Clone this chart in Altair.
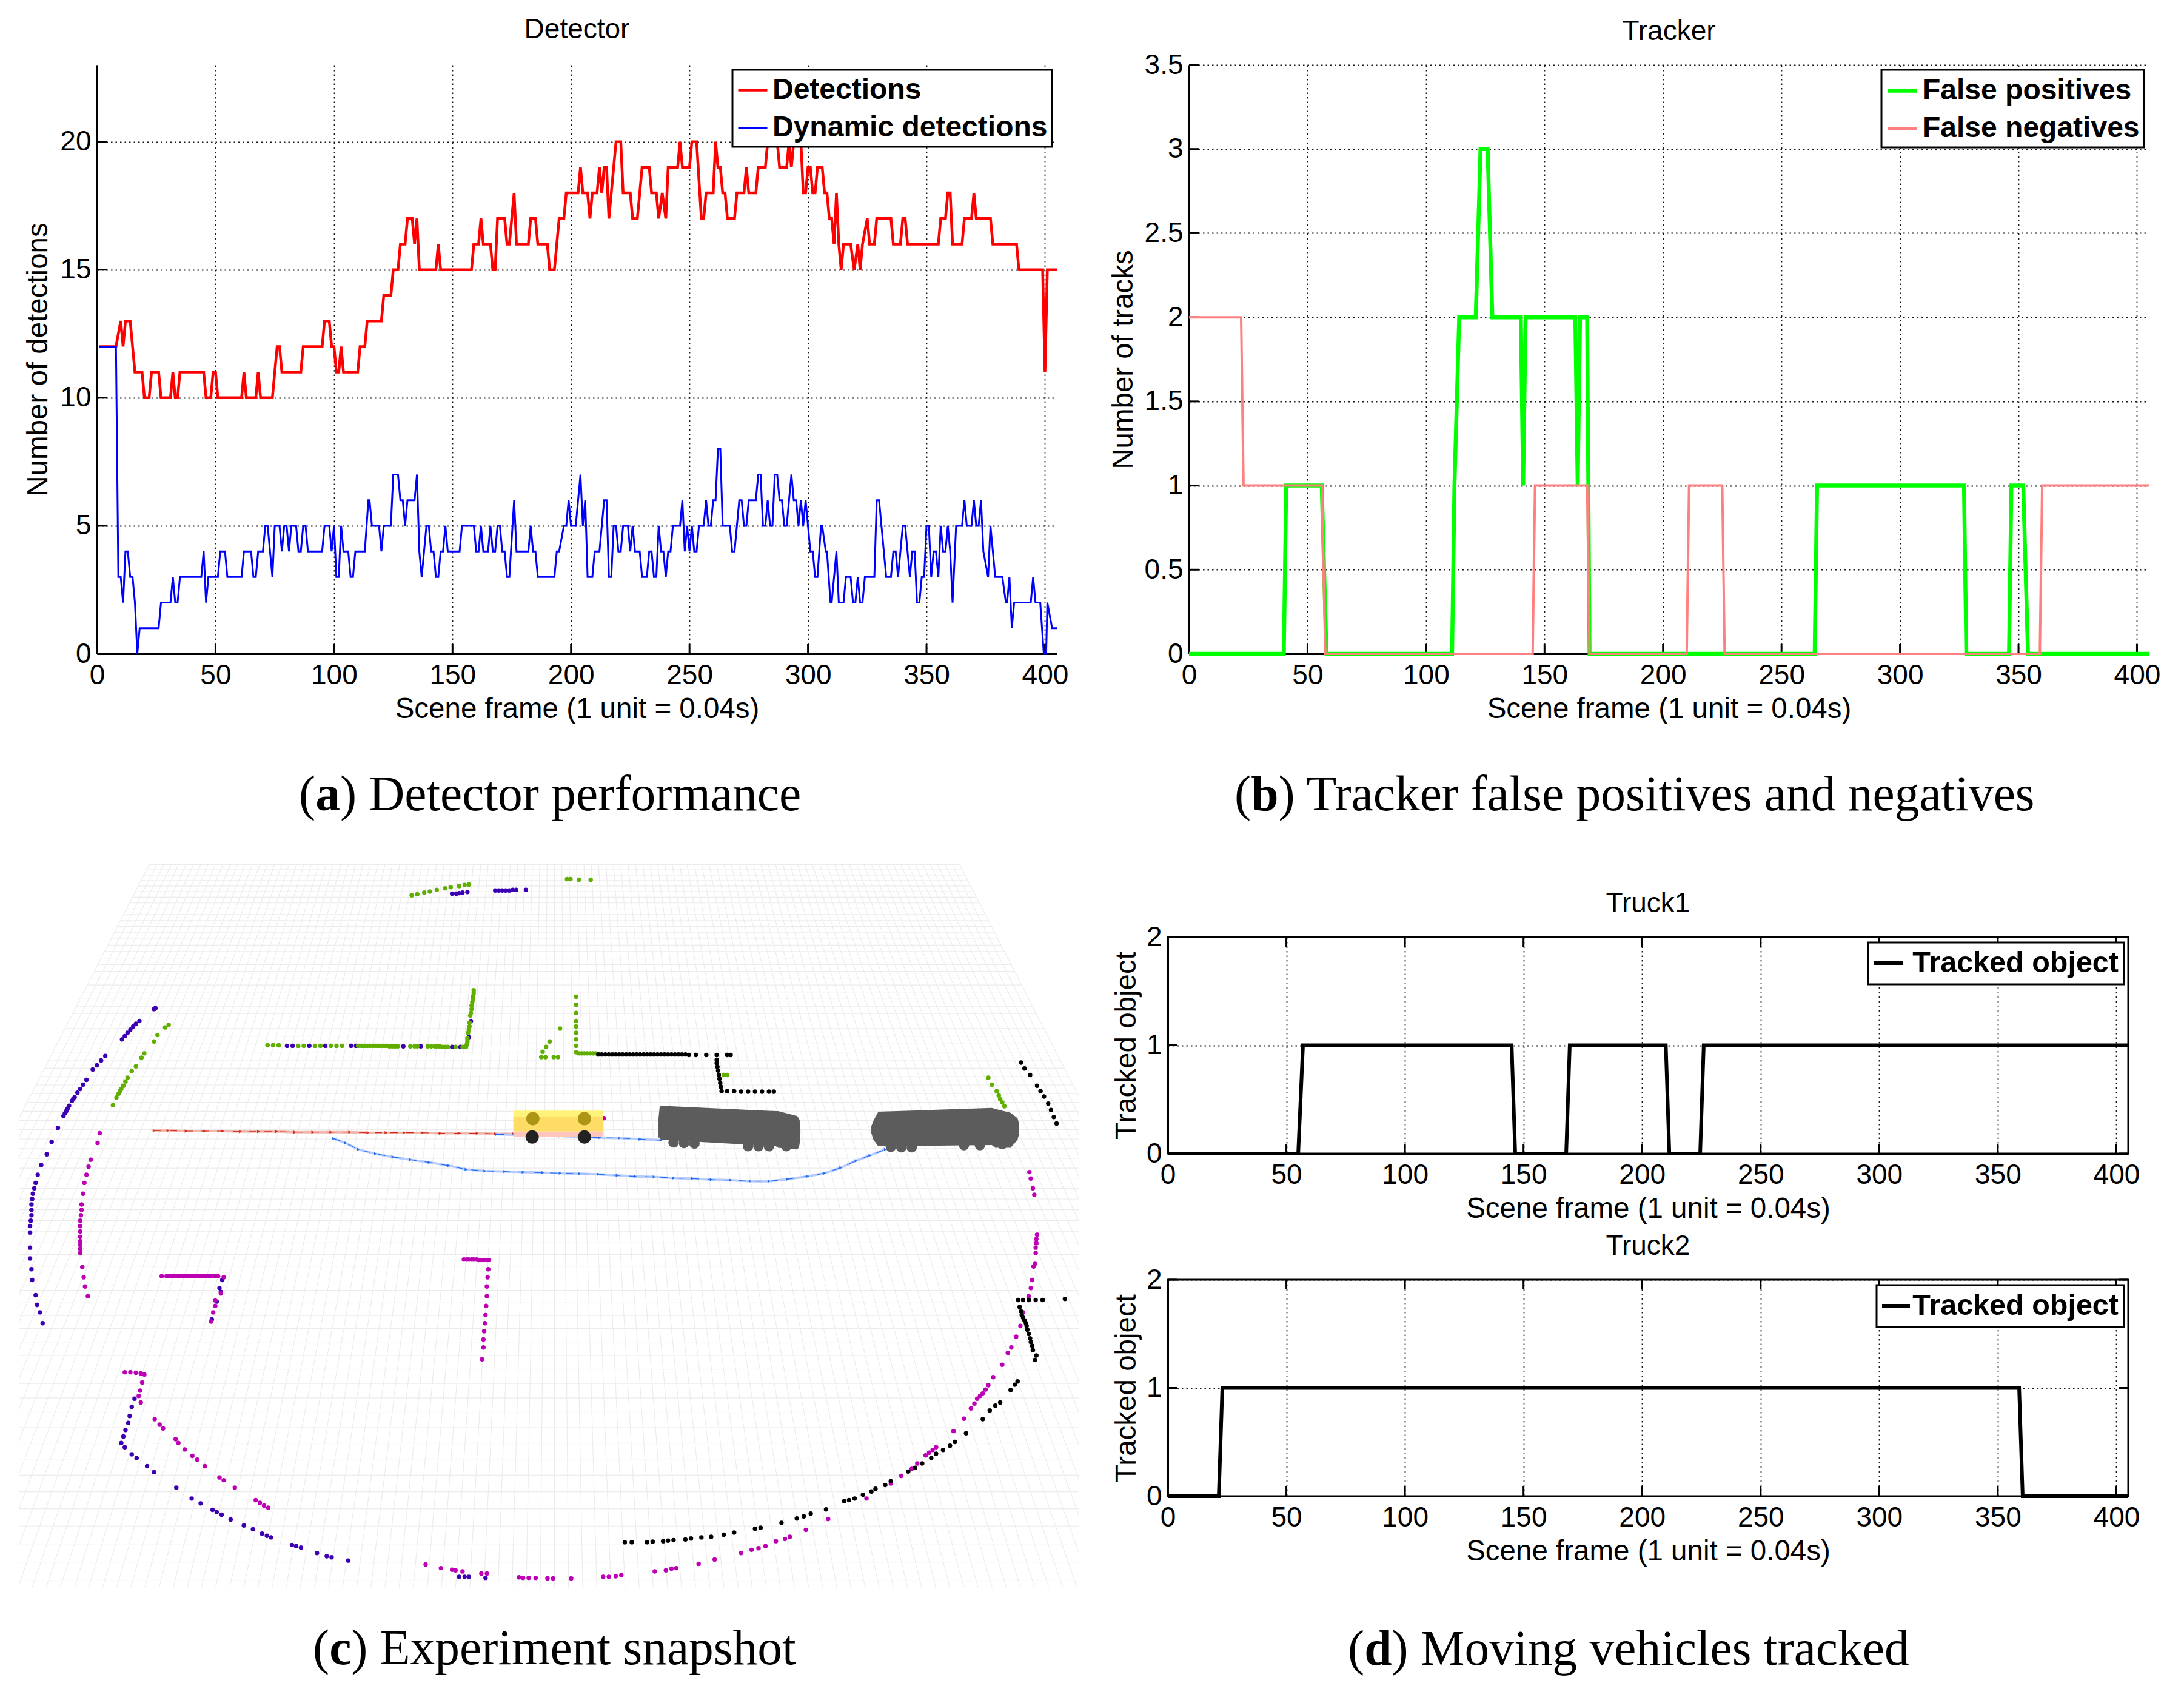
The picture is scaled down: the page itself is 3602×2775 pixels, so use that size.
import altair as alt
import pandas as pd

SANS = "Liberation Sans"
SERIF = "Liberation Serif"
FRAME_TICKS = [0, 50, 100, 150, 200, 250, 300, 350, 400]
X_TITLE = "Scene frame (1 unit = 0.04s)"

# Panel (a): (frame, count) at each change of the step curves
detections = [
    (1, 12), (8, 12), (10, 13), (11, 12), (12, 13), (14, 13), (15, 12), (16, 11), (19, 11), (20, 10),
    (22, 10), (23, 11), (26, 11), (27, 10), (31, 10), (32, 11), (33, 10), (34, 10), (35, 11), (45, 11),
    (46, 10), (48, 10), (49, 11), (50, 11), (51, 10), (61, 10), (62, 11), (63, 10), (67, 10), (68, 11),
    (69, 10), (74, 10), (75, 11), (76, 12), (77, 12), (78, 11), (86, 11), (87, 12), (95, 12), (96, 13),
    (98, 13), (99, 12), (100, 12), (101, 11), (102, 11), (103, 12), (104, 11), (110, 11), (111, 12),
    (113, 12), (114, 13), (120, 13), (121, 14), (124, 14), (125, 15), (127, 15), (128, 16), (130, 16),
    (131, 17), (133, 17), (134, 16), (135, 17), (136, 15), (143, 15), (144, 16), (145, 15), (158, 15),
    (159, 16), (161, 16), (162, 17), (163, 16), (166, 16), (167, 15), (168, 15), (169, 17), (172, 17),
    (173, 16), (174, 16), (175, 17), (176, 18), (177, 16), (182, 16), (183, 17), (185, 17), (186, 16),
    (190, 16), (191, 15), (193, 15), (194, 16), (195, 17), (197, 17), (198, 18), (203, 18), (204, 19),
    (205, 18), (207, 18), (208, 17), (209, 18), (211, 18), (212, 19), (213, 18), (214, 19), (215, 19),
    (216, 17), (217, 18), (218, 19), (219, 20), (221, 20), (222, 18), (225, 18), (226, 17), (228, 17),
    (229, 18), (230, 19), (233, 19), (234, 18), (236, 18), (237, 17), (238.5, 18), (240, 17), (241, 19),
    (245, 19), (246, 20), (247, 19), (250, 19), (251, 20), (253, 20), (255, 17), (256, 17), (257, 18),
    (260, 18), (261, 20), (262, 19), (263, 19), (264, 18), (265, 18), (266, 17), (269, 17), (270, 18),
    (273, 18), (274, 19), (275, 18), (278, 18), (279, 19), (282, 19), (283, 20), (287, 20), (288, 19),
    (291, 19), (292, 20), (293, 19), (294, 20), (297, 20), (298, 18), (299, 18), (300, 19), (301, 19),
    (302, 18), (303, 18), (304, 19), (306, 19), (307, 18), (308, 18), (309, 17), (310, 17), (311, 16),
    (312, 18), (313, 16), (314, 15), (315, 16), (318, 16), (319.5, 15), (321, 16), (322, 15), (323, 16),
    (325, 17), (326, 16), (328, 16), (329, 17), (335, 17), (336, 16), (339, 16), (340, 17), (341, 17),
    (342, 16), (355, 16), (356, 17), (358, 17), (359, 18), (360, 18), (361, 16), (365, 16), (366, 17),
    (369, 17), (370, 18), (371, 17), (377, 17), (378, 16), (388, 16), (389, 15), (399, 15), (400, 11),
    (401, 15), (405, 15),
]
dynamic_detections = [
    (1, 12), (8, 12), (9, 3), (10, 3), (11, 2), (12, 4), (13, 4), (14, 3), (15, 3), (16, 2), (17, 0),
    (18, 1), (26, 1), (27, 2), (31, 2), (32, 3), (33, 2), (34, 2), (35, 3), (44, 3), (45, 4), (46, 2),
    (47, 3), (51, 3), (52, 4), (54, 4), (55, 3), (61, 3), (62, 4), (65, 4), (66, 3), (67, 3), (68, 4),
    (70, 4), (71, 5), (72, 5), (73, 4), (74, 3), (75, 5), (77, 5), (78, 4), (79, 5), (80, 5), (81, 4),
    (82, 5), (84, 5), (85, 4), (86, 4), (87, 5), (88, 5), (89, 4), (95, 4), (96, 5), (98, 5), (99, 4),
    (100, 5), (101, 3), (102, 3), (103, 5), (104, 4), (106, 4), (107, 3), (108, 3), (109, 4), (113, 4),
    (114.5, 6), (115, 6), (116, 5), (119, 5), (120, 4), (121, 5), (124, 5), (125, 7), (127, 7), (128, 6),
    (129, 6), (130, 5), (131, 6), (134, 6), (135, 7), (136, 4), (137, 3), (138, 4), (139, 5), (140, 5),
    (141, 4), (142, 4), (143, 3), (144, 3), (145, 4), (146, 4), (147, 5), (148, 4), (153, 4), (154, 5),
    (159, 5), (160, 4), (161, 4), (162, 5), (163, 4), (165, 4), (166, 5), (167, 4), (168, 4), (169, 5),
    (170, 5), (171, 4), (172, 4), (173, 3), (174, 3), (176, 6), (177, 4), (182, 4), (183, 5), (184, 4),
    (185, 4), (186, 3), (193, 3), (194, 4), (195, 4), (197, 5), (198, 5), (199, 6), (200, 5), (202, 5),
    (204, 7), (205, 5), (206, 6), (207, 3), (209, 3), (210, 4), (212, 4), (213, 5), (214, 6), (215, 6),
    (216, 3), (217, 3), (218, 5), (219, 5), (220, 4), (221, 4), (222, 5), (224, 5), (225, 4), (226, 5),
    (227, 4), (229, 4), (230, 3), (232, 3), (233, 4), (234, 4), (235, 3), (236, 3), (237, 5), (238, 4),
    (239, 4), (240, 3), (241, 4), (242, 4), (243, 5), (246, 5), (247, 6), (248, 4), (249, 5), (250, 4),
    (251, 5), (252, 4), (253, 4), (254, 5), (256, 5), (257, 6), (258, 5), (259, 5), (260, 6), (261, 6),
    (262, 8), (263, 8), (264, 5), (267, 5), (268, 4), (269, 4), (271, 6), (272, 6), (273, 5), (274, 5),
    (275, 6), (278, 6), (279, 7), (280, 7), (281, 5), (282, 5), (283, 6), (284, 5), (285, 5), (286, 7),
    (287, 7), (288, 6), (289, 6), (290, 5), (291, 5), (293, 7), (294, 6), (295, 6), (296, 5), (297, 6),
    (298, 5), (299, 6), (300, 5), (301, 4), (302, 4), (303, 3), (304, 3), (305.5, 5), (306, 5), (307.5, 4),
    (308, 4), (309.5, 2), (310, 2), (312, 4), (313, 2), (315, 2), (316, 3), (318, 3), (319, 2), (320, 2),
    (321, 3), (322, 2), (323, 2), (324, 3), (328, 3), (329, 6), (330, 6), (331, 5), (333, 3), (335, 3),
    (336, 4), (337, 4), (338, 3), (340, 5), (341, 5), (343, 3), (344, 4), (345, 4), (346, 2), (347, 2),
    (348, 3), (349, 3), (350, 5), (351, 5), (352, 3), (353, 4), (354, 4), (355, 3), (356, 5), (357, 4),
    (358, 4), (359, 5), (360, 4), (361, 2), (362.5, 5), (365, 5), (366, 6), (367, 5), (369, 5), (370, 6),
    (371, 5), (372, 5), (373, 6), (374, 4), (376, 3), (377, 5), (379, 3), (382, 3), (383.5, 2), (384, 2),
    (385, 3), (386, 1), (387, 2), (394, 2), (395, 3), (396, 2), (398, 2), (399.5, 0), (400.5, 0), (401, 2),
    (403, 1), (405, 1),
]

# Panel (b)
false_positives = [
    (0, 0), (40, 0), (41, 1), (56, 1), (58, 0), (111, 0), (112, 1), (114, 2), (121, 2), (123, 3), (126, 3),
    (128, 2), (140, 2), (141, 1), (142, 2), (163, 2), (164, 1), (165, 2), (168, 2), (169, 0), (264, 0),
    (265, 1), (327, 1), (328, 0), (346, 0), (347, 1), (352, 1), (354, 0), (405, 0),
]
false_negatives = [
    (0, 2), (22, 2), (23, 1), (56, 1), (57.5, 0), (145, 0), (146, 1), (168, 1), (169, 0), (210, 0), (211, 1),
    (225, 1), (226, 0), (359, 0), (360, 1), (405, 1),
]

# Panel (d)
truck1_track = [
    (0, 0), (55, 0), (57, 1), (145, 1), (146.5, 0), (168, 0), (169.5, 1), (210, 1), (211.5, 0), (224.5, 0),
    (226, 1), (405, 1),
]
truck2_track = [(0, 0), (21.5, 0), (23, 1), (359, 1), (360.5, 0), (405, 0)]

# Panel (c): scene points, in the snapshot's own picture units
purple_points = [
    (222, 318), (224, 316), (176, 374), (180, 368), (184, 362), (188, 356), (192, 350), (196, 345), (201, 340),
    (152, 405), (146, 413), (140, 422), (134, 430), (125, 449), (116, 466), (108, 481), (104, 488), (100, 497),
    (96, 507), (92, 516), (84, 538), (75, 564), (68, 587), (60, 607), (55, 625), (52, 640), (48, 660), (46, 680),
    (46, 700), (44, 720), (44, 732), (44, 760), (44, 780), (46, 800), (47, 820), (52, 848), (54, 866), (58, 880),
    (62, 900), (650, 104), (660, 103), (672, 101), (712, 98), (722, 98), (732, 98), (742, 97), (756, 97),
    (194, 1040), (190, 1055), (187, 1072), (185, 1085), (181, 1098), (178, 1110), (175, 1122), (180, 1130),
    (190, 1143), (197, 1150), (212, 1165), (222, 1176), (254, 1205), (276, 1225), (289, 1234), (306, 1246),
    (312, 1250), (319, 1255), (332, 1264), (351, 1275), (364, 1282), (377, 1290), (384, 1294), (390, 1297),
    (420, 1311), (426, 1313), (433, 1316), (456, 1326), (470, 1332), (477, 1334), (501, 1340), (660, 1370),
    (668, 1370), (674, 1370), (698, 1372), (413, 386), (421, 386), (445, 386), (468, 386), (505, 386), (512, 386),
    (580, 387), (605, 387), (650, 388), (662, 388), (674, 370), (677, 340), (320, 820), (316, 835),
    (106, 484), (112, 473), (120, 458), (98, 502), (94, 511), (50, 650), (47, 670), (46, 690), (45, 710),
    (717, 98), (727, 98), (737, 97), (656, 104), (665, 102), (305, 893), (312, 860), (318, 842),
]
green_points = [
    (243, 347), (238, 352), (227, 366), (222, 378), (208, 400), (204, 408), (196, 424), (190, 433), (184, 445),
    (178, 460), (173, 470), (168, 482), (163, 496), (592, 107), (600, 105), (610, 102), (618, 100), (628, 97),
    (640, 94), (648, 92), (660, 90), (668, 88), (674, 87), (815, 77), (820, 77), (832, 78), (849, 78),
    (385, 385), (393, 385), (401, 385), (429, 386), (437, 386), (453, 386), (461, 386), (476, 386), (484, 386),
    (492, 386), (520, 386), (528, 386), (536, 386), (544, 386), (552, 386), (560, 387), (568, 387), (590, 387),
    (596, 387), (615, 387), (625, 387), (632, 387), (640, 388), (670, 388), (672, 378), (673, 362), (675, 350),
    (676, 330), (678, 318), (679, 305), (680, 295), (681, 283), (828, 295), (828, 310), (828, 325), (828, 340),
    (828, 350), (828, 362), (828, 374), (828, 386), (828, 398), (836, 400), (844, 400), (852, 400), (860, 401),
    (805, 354), (790, 378), (785, 388), (780, 397), (778, 407), (784, 407), (796, 407), (802, 407), (1045, 440),
    (1420, 445), (1425, 458), (1432, 470), (1437, 485), (1443, 498),
    (515, 386), (524, 386), (532, 386), (540, 386), (548, 386), (556, 386), (564, 387), (572, 387), (600, 387),
    (620, 387), (628, 387), (636, 388), (644, 388), (655, 388), (665, 388), (671, 384), (672, 372), (674, 356),
    (675, 343), (677, 325), (678, 311), (680, 300), (681, 289), (171, 475), (175, 466), (181, 452), (832, 400),
    (840, 400), (848, 400), (856, 400), (1040, 440), (1435, 478), (1440, 491),
]
magenta_points = [
    (144, 548), (141, 566), (131, 597), (128, 610), (125, 625), (122, 640), (120, 660), (118, 680), (117, 700),
    (116, 720), (116, 740), (116, 755), (116, 770), (119, 796), (121, 815), (123, 832), (127, 850),
    (1479, 620), (1481, 632), (1484, 650), (1486, 662), (1490, 736), (1489, 752), (1488, 770), (1487, 790),
    (1485, 795), (1483, 820), (1481, 835), (1478, 850), (1470, 880), (1466, 905), (1460, 925), (1453, 945),
    (1448, 955), (1440, 977), (1427, 1000), (1420, 1015), (1412, 1030), (1404, 1040), (1395, 1058), (1385, 1077),
    (1370, 1100), (1345, 1130), (1335, 1140), (1318, 1160), (1310, 1170), (1295, 1183), (1280, 1197), (1245, 1225),
    (1190, 1263), (1158, 1283), (1135, 1296), (1128, 1300), (1115, 1304), (1100, 1313), (1090, 1317), (1080, 1320),
    (1065, 1326), (1027, 1338), (1004, 1346), (972, 1354), (965, 1355), (957, 1358), (941, 1360), (893, 1367),
    (885, 1369), (875, 1370), (867, 1370), (821, 1373), (795, 1373), (787, 1373), (770, 1372), (760, 1372),
    (752, 1372), (746, 1371), (700, 1364), (692, 1364), (665, 1360), (655, 1358), (650, 1357), (634, 1354), (612, 1347),
    (180, 991), (188, 991), (196, 992), (203, 993), (208, 995), (205, 1010), (202, 1025), (200, 1035), (203, 1047),
    (223, 1078), (230, 1088), (235, 1095), (253, 1115), (257, 1122), (266, 1134), (277, 1146), (284, 1153), (295, 1165),
    (316, 1186), (322, 1191), (338, 1205), (368, 1228), (374, 1233), (380, 1238), (386, 1242),
    (233, 813), (240, 813), (247, 813), (254, 813), (261, 813), (268, 813), (275, 813), (282, 813), (290, 813),
    (298, 813), (306, 813), (314, 813), (322, 815), (318, 845), (310, 858), (310, 868), (307, 880), (304, 897),
    (667, 782), (674, 782), (681, 782), (688, 783), (696, 783), (703, 783), (702, 800), (701, 815), (700, 832),
    (700, 850), (699, 868), (698, 885), (697, 900), (696, 915), (695, 930), (695, 945), (693, 967), (868, 520), (1114, 565),
    (671, 782), (678, 782), (685, 782), (692, 783), (700, 783), (116, 710), (116, 730), (116, 748), (116, 762),
    (118, 690), (1488, 760), (1489, 744), (1416, 1023), (1408, 1035), (1400, 1049), (1340, 1135), (1330, 1145),
    (244, 813), (251, 813), (258, 813), (265, 813), (272, 813), (279, 813), (286, 813), (294, 813), (302, 813), (310, 813),
]
black_points = [
    (860, 402), (870, 402), (880, 402), (890, 402), (900, 402), (910, 402), (920, 402), (930, 402), (940, 402),
    (950, 402), (960, 402), (970, 402), (980, 402), (1000, 403), (1015, 403), (1030, 403), (1045, 403), (1050, 403),
    (1030, 412), (1031, 425), (1033, 440), (1035, 455), (1037, 470), (1045, 470), (1055, 470), (1065, 471), (1075, 471),
    (1085, 471), (1095, 471), (1105, 471), (1112, 471),
    (1467, 417), (1472, 428), (1480, 440), (1490, 460), (1495, 470), (1500, 480), (1506, 493), (1510, 505), (1514, 518),
    (1518, 530), (1530, 855), (1498, 857), (1488, 857), (1478, 857), (1470, 857), (1463, 857), (1465, 870), (1468, 885),
    (1472, 895), (1475, 905), (1478, 920), (1481, 935), (1484, 950), (1489, 960), (1487, 968), (1462, 1008), (1458, 1014),
    (1452, 1024), (1437, 1047), (1430, 1053), (1422, 1062), (1412, 1078), (1388, 1104), (1372, 1120), (1365, 1127),
    (1355, 1135), (1345, 1142), (1338, 1150), (1325, 1160), (1315, 1168), (1305, 1175), (1280, 1193), (1272, 1200),
    (1258, 1207), (1252, 1212), (1240, 1218), (1228, 1225), (1220, 1228), (1213, 1230), (1187, 1245), (1165, 1253),
    (1155, 1258), (1145, 1262), (1123, 1270), (1093, 1279), (1085, 1281), (1055, 1288), (1040, 1292), (1022, 1296),
    (1008, 1297), (993, 1299), (985, 1301), (968, 1302), (960, 1303), (953, 1304), (938, 1305), (930, 1306), (908, 1306), (898, 1306),
    (865, 402), (875, 402), (885, 402), (895, 402), (905, 402), (915, 402), (925, 402), (935, 402), (945, 402),
    (955, 402), (965, 402), (975, 402), (985, 402), (990, 403), (1030, 418), (1032, 432), (1034, 447), (1036, 462), (1467, 878),
    (1470, 890), (1474, 900), (1476, 912), (1480, 928), (1483, 942),
]
red_path = [
    (222, 543), (242, 543), (268, 544), (294, 544), (320, 544), (346, 545), (372, 545), (398, 545), (424, 546), (450, 546),
    (476, 546), (503, 546), (529, 547), (555, 547), (581, 547), (607, 547), (633, 548), (660, 548), (686, 548), (712, 549), (738, 549),
]
blue_path_upper = [(714, 550), (745, 551), (775, 552), (805, 553), (835, 555), (862, 556), (890, 557), (920, 559), (950, 561)]
blue_path_lower = [
    (480, 558), (497, 566), (515, 578), (540, 586), (565, 592), (590, 597), (617, 602), (645, 608), (670, 615), (697, 618),
    (725, 619), (752, 620), (780, 621), (805, 622), (833, 623), (860, 624), (887, 626), (913, 628), (940, 629), (968, 631),
    (995, 632), (1022, 634), (1050, 635), (1078, 637), (1105, 637), (1132, 633), (1160, 628), (1185, 622), (1208, 612),
    (1230, 599), (1250, 589), (1272, 578),
]
# vehicles: x, upper edge, lower edge
truck1_x = [946, 948, 950, 1115, 1118, 1145, 1148, 1150]
truck1_top = [525, 500, 497, 507, 507, 516, 520, 528]
truck1_bottom = [556, 556, 560, 572, 575, 578, 575, 560]
truck2_x = [1252, 1255, 1262, 1425, 1430, 1452, 1462, 1464]
truck2_top = [535, 525, 508, 501, 503, 510, 520, 530]
truck2_bottom = [548, 560, 572, 570, 575, 575, 560, 550]
truck_wheels = [
    (968, 565), (983, 566), (998, 567), (1075, 572), (1090, 572), (1105, 572), (1130, 572), (1280, 573), (1295, 574),
    (1310, 574), (1385, 570), (1408, 570), (1440, 568),
]
bus_x = [738, 867]
bus_bands = [(506, 518, "#fff27a"), (518, 545, "#ffdc66"), (545, 554, "#ffc4bc")]
bus_lamps = [(766, 521), (840, 521)]
bus_wheels = [(765, 555), (840, 555)]

# background floor of the snapshot, picture units
FLOOR_TOP, FLOOR_BOTTOM, FLOOR_LEFT, FLOOR_RIGHT = 50, 1390, 28, 1550
VANISH_X, VANISH_Y, FLOOR_SLOPE = 797, -1412, 0.398


def floor_lines():
    rows = []
    n = 0
    # rows get further apart towards the viewer
    y = FLOOR_TOP
    while y < FLOOR_BOTTOM:
        half = FLOOR_SLOPE * (y - VANISH_Y)
        rows += [
            {"px": max(FLOOR_LEFT, VANISH_X - half), "py": y, "line": n},
            {"px": min(FLOOR_RIGHT, VANISH_X + half), "py": y, "line": n},
        ]
        n += 1
        y += 6.5 * ((y - VANISH_Y) / 1462) ** 2 * 1.5
    for k in range(-55, 56):
        top_x = VANISH_X + k * 10.58
        spread = (top_x - VANISH_X) / (FLOOR_TOP - VANISH_Y)
        end_y = FLOOR_BOTTOM
        if VANISH_X + spread * (end_y - VANISH_Y) < FLOOR_LEFT:
            end_y = VANISH_Y + (FLOOR_LEFT - VANISH_X) / spread
        if VANISH_X + spread * (end_y - VANISH_Y) > FLOOR_RIGHT:
            end_y = VANISH_Y + (FLOOR_RIGHT - VANISH_X) / spread
        rows += [
            {"px": top_x, "py": FLOOR_TOP, "line": n},
            {"px": VANISH_X + spread * (end_y - VANISH_Y), "py": end_y, "line": n},
        ]
        n += 1
    return pd.DataFrame(rows)


def steps(pairs, name):
    return pd.DataFrame({"frame": [p[0] for p in pairs], "value": [p[1] for p in pairs], "series": name})


def points(pairs):
    return pd.DataFrame({"px": [p[0] for p in pairs], "py": [p[1] for p in pairs]})


def caption(letter, rest, x0, y0, letter_width):
    size = 81.5
    pieces = [("(", x0, "normal"), (letter, x0 + 0.333 * size, "bold"), (rest, x0 + (0.333 + letter_width) * size, "normal")]
    layers = []
    for text, x, weight in pieces:
        layers.append(
            alt.Chart(pd.DataFrame({"t": [text]}))
            .mark_text(font=SERIF, fontSize=size, fontWeight=weight, align="left", baseline="middle", color="black")
            .encode(text="t:N", x=alt.value(x), y=alt.value(y0))
        )
    return layers


def inner_ticks(y_ticks, width, height, boxed=False):
    x_df = pd.DataFrame({"frame": FRAME_TICKS})
    y_df = pd.DataFrame({"value": y_ticks})
    layers = [
        alt.Chart(x_df).mark_rule(color="black", strokeWidth=3).encode(
            x="frame:Q", y=alt.value(height), y2=alt.value(height - 16)
        ),
        alt.Chart(y_df).mark_rule(color="black", strokeWidth=3).encode(
            y="value:Q", x=alt.value(0), x2=alt.value(16)
        ),
    ]
    if boxed:
        layers += [
            alt.Chart(x_df).mark_rule(color="black", strokeWidth=3).encode(
                x="frame:Q", y=alt.value(0), y2=alt.value(16)
            ),
            alt.Chart(y_df).mark_rule(color="black", strokeWidth=3).encode(
                y="value:Q", x=alt.value(width), x2=alt.value(width - 16)
            ),
        ]
    return layers


def step_axes(y_domain, y_ticks, y_title, ytitle_pad):
    x = alt.X(
        "frame:Q",
        scale=alt.Scale(domain=[0, 405], nice=False),
        axis=alt.Axis(values=FRAME_TICKS, title=X_TITLE, format="d", labelPadding=13, titlePadding=9),
    )
    y = alt.Y(
        "value:Q",
        scale=alt.Scale(domain=y_domain, nice=False),
        axis=alt.Axis(values=y_ticks, title=y_title, format="~g", titlePadding=ytitle_pad),
    )
    return x, y


def step_panel(frames, names, colors, widths, y_domain, y_ticks, y_title, title, width, height,
               captions=(), title_pad=34, ytitle_pad=11):
    data = pd.concat(frames, ignore_index=True)
    x, y = step_axes(y_domain, y_ticks, y_title, ytitle_pad)
    lines = (
        alt.Chart(data)
        .mark_line(strokeJoin="miter", strokeMiterLimit=2)
        .encode(
            x=x,
            y=y,
            color=alt.Color(
                "series:N",
                scale=alt.Scale(domain=names, range=colors),
                legend=alt.Legend(
                    title=None,
                    orient="top-right",
                    offset=8,
                    symbolType="stroke",
                    symbolSize=48**2,
                    labelFontWeight="bold",
                    labelLimit=1000,
                    labelOffset=6,
                    rowPadding=12,
                    padding=7,
                    fillColor="white",
                    strokeColor="black",
                ),
            ),
            strokeWidth=alt.StrokeWidth(
                "series:N", scale=alt.Scale(domain=names, range=widths), legend=None
            ),
            order=alt.Order("frame:Q"),
        )
    )
    layers = inner_ticks(y_ticks, width, height) + [lines] + list(captions)
    return alt.layer(*layers).properties(
        width=width,
        height=height,
        title=alt.TitleParams(title, offset=title_pad),
    )


def truck_panel(track, title, width, height, box_left, line_left, line_right, captions=()):
    # one-entry legend box is drawn by hand, the native one collapses
    x, y = step_axes([0, 2], [0, 1, 2], "Tracked object", 8)
    line = alt.Chart(steps(track, "Tracked object")).mark_line(
        color="black", strokeWidth=6, strokeJoin="miter", strokeMiterLimit=2
    ).encode(x=x, y=y, order=alt.Order("frame:Q"))
    box = alt.Chart(pd.DataFrame({"a": [0]})).mark_rect(fill="white", stroke="black", strokeWidth=3).encode(
        x=alt.value(box_left), x2=alt.value(width - 7), y=alt.value(9), y2=alt.value(78)
    )
    key = alt.Chart(pd.DataFrame({"a": [0]})).mark_rule(color="black", strokeWidth=6).encode(
        x=alt.value(line_left), x2=alt.value(line_right), y=alt.value(43)
    )
    label = alt.Chart(pd.DataFrame({"t": ["Tracked object"]})).mark_text(
        font=SANS, fontSize=48.5, fontWeight="bold", align="right", baseline="middle", color="black"
    ).encode(text="t:N", x=alt.value(width - 16), y=alt.value(43))
    layers = inner_ticks([0, 1, 2], width, height, boxed=True) + [line, box, key, label] + list(captions)
    return alt.layer(*layers).properties(
        width=width,
        height=height,
        title=alt.TitleParams(title, offset=8),
        view=alt.ViewBackground(stroke="black", strokeWidth=3),
    )


def snapshot_panel(width, height, left_domain, captions=()):
    x = alt.X("px:Q", scale=alt.Scale(domain=[left_domain, 1568], nice=False), axis=None)
    y = alt.Y("py:Q", scale=alt.Scale(domain=[1568, 0], nice=False), axis=None)

    floor = alt.Chart(floor_lines()).mark_line(color="#ececec", strokeWidth=1.2).encode(x=x, y=y, detail="line:N")
    layers = [floor]

    for color, pts in [
        ("#3c00b4", purple_points),
        ("#5fae00", green_points),
        ("#bd00b4", magenta_points),
        ("#000000", black_points),
    ]:
        layers.append(alt.Chart(points(pts)).mark_circle(color=color, size=55, opacity=1).encode(x=x, y=y))

    for path, band, dash in [
        (red_path, "#f2b8b0", "#d42a1a"),
        (blue_path_upper, "#b8ccff", "#1f6cf0"),
        (blue_path_lower, "#b8ccff", "#1f6cf0"),
    ]:
        layers.append(alt.Chart(points(path)).mark_line(color=band, strokeWidth=4).encode(x=x, y=y))
        layers.append(alt.Chart(points(path)).mark_line(color=dash, strokeWidth=1.2, strokeDash=[12, 14]).encode(x=x, y=y))
        layers.append(
            alt.Chart(points(path))
            .mark_point(shape="triangle-right", filled=True, color=dash, size=28, opacity=1)
            .encode(x=x, y=y)
        )

    for band_top, band_bottom, color in bus_bands:
        layers.append(
            alt.Chart(pd.DataFrame({"px": [bus_x[0]], "px2": [bus_x[1]], "py": [band_top], "py2": [band_bottom]}))
            .mark_rect(color=color)
            .encode(x=x, x2="px2:Q", y=y, y2="py2:Q")
        )
    layers.append(alt.Chart(points(bus_lamps)).mark_circle(color="#ae9414", size=480, opacity=1).encode(x=x, y=y))
    layers.append(alt.Chart(points(bus_wheels)).mark_circle(color="#222222", size=480, opacity=1).encode(x=x, y=y))

    for tx, top, bottom in [(truck1_x, truck1_top, truck1_bottom), (truck2_x, truck2_top, truck2_bottom)]:
        layers.append(
            alt.Chart(pd.DataFrame({"px": tx, "py": top, "py2": bottom}))
            .mark_area(color="#5c5c5c", opacity=1)
            .encode(x=x, y=y, y2="py2:Q")
        )
    layers.append(alt.Chart(points(truck_wheels)).mark_circle(color="#5c5c5c", size=300, opacity=1).encode(x=x, y=y))

    return alt.layer(*layers, *captions).properties(width=width, height=height)


PANEL_W, PANEL_H = 1583, 971
TRUCK_W, TRUCK_H = 1584, 357

panel_a = step_panel(
    [steps(detections, "Detections"), steps(dynamic_detections, "Dynamic detections")],
    ["Detections", "Dynamic detections"], ["#ff0000", "#0000ff"], [4.5, 3],
    [0, 23], [0, 5, 10, 15, 20], "Number of detections", "Detector", PANEL_W, PANEL_H,
    captions=caption("a", ") Detector performance", 494 - 161, 1311 - 106, 0.5),
)
panel_b = step_panel(
    [steps(false_positives, "False positives"), steps(false_negatives, "False negatives")],
    ["False positives", "False negatives"], ["#00ff00", "#ff8080"], [6.5, 4],
    [0, 3.5], [0, 0.5, 1, 1.5, 2, 2.5, 3, 3.5], "Number of tracks", "Tracker", PANEL_W, PANEL_H,
    captions=caption("b", ") Tracker false positives and negatives", 2037 - 1962, 1311 - 106, 0.556),
    title_pad=8, ytitle_pad=10,
)
panel_c = snapshot_panel(
    1801 - 161, 1395, 161 / 1.149,
    captions=caption("c", ") Experiment snapshot", 517 - 161, 2719 - 1380, 0.444),
)
truck1 = truck_panel(truck1_track, "Truck1", TRUCK_W, TRUCK_H, 1155, 1164, 1213)
truck2 = truck_panel(
    truck2_track, "Truck2", TRUCK_W, TRUCK_H, 1169, 1178, 1224,
    captions=caption("d", ") Moving vehicles tracked", 2224 - 1927, 2719 - 2108, 0.556),
)
spacer = (
    alt.Chart(pd.DataFrame({"a": [0]}))
    .mark_point(opacity=0)
    .encode(x=alt.value(0), y=alt.value(0))
    .properties(width=10, height=20)
)

# nested concats count as zero-sized in a flush layout, so the spacing there is the whole step
top_row = alt.hconcat(panel_a, panel_b, spacing=218, bounds="flush").resolve_scale(color="independent", strokeWidth="independent")
right_col = alt.vconcat(truck1, truck2, spacing=208, bounds="flush")
right_stack = alt.vconcat(spacer, right_col, spacing=144, bounds="flush")
bottom_row = alt.hconcat(panel_c, right_stack, spacing=126, bounds="flush")

chart = (
    alt.vconcat(top_row, bottom_row, spacing=1274, bounds="flush")
    .resolve_scale(color="independent", strokeWidth="independent")
    .properties(padding={"left": 20, "top": 17, "right": 0, "bottom": 0}, background="white")
    .configure_view(stroke="transparent")
    .configure_axis(
        grid=True,
        gridColor="black",
        gridDash=[2.5, 5],
        gridWidth=1.8,
        gridOpacity=0.9,
        domainColor="black",
        domainWidth=3,
        ticks=False,
        labelFont=SANS,
        titleFont=SANS,
        labelFontSize=46,
        titleFontSize=47.5,
        titleFontWeight="normal",
        labelColor="black",
        titleColor="black",
        labelFlush=False,
        labelOverlap=False,
        labelPadding=10,
        titlePadding=12,
    )
    .configure_title(font=SANS, fontSize=46, fontWeight="normal", color="black", anchor="middle")
    .configure_legend(labelFont=SANS, labelFontSize=48, labelColor="black", strokeWidth=3)
)

chart.save("out.html", embed_options={"renderer": "svg", "actions": False})
